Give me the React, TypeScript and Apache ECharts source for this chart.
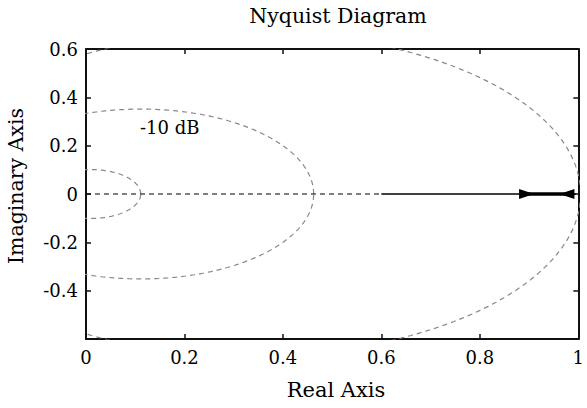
import React, { useEffect, useRef } from "react";
import * as echarts from "echarts";

// M-circle levels of the Nyquist grid (dB)
const mCircleDb = [-20, -10, -6];
// Grid label
const gridLabelText = "-10 dB";
const gridLabelPos = [0.17, 0.275];
// Nyquist response (real, imag)
const nyquistRe = [0.6, 0.995];
const nyquistIm = [0, 0];
// Thick overlapped segment and arrow positions
const thickRe = [0.895, 0.977];
const arrowRe = [0.895, 0.977];
const arrowRotate = [-90, 90];
// Real axis reference (dashed) from 0 to 0.6
const realAxisRe = [0, 0.6];
// Axis ticks
const xTicks = [0, 0.2, 0.4, 0.6, 0.8, 1];
const yTicks = [-0.6, -0.4, -0.2, 0, 0.2, 0.4, 0.6];

const FONT = "DejaVu Serif";

function mCircle(db: number): number[][] {
  const M = Math.pow(10, db / 20);
  const c = (M * M) / (1 - M * M);
  const r = Math.abs(M / (1 - M * M));
  const pts: number[][] = [];
  const n = 360;
  for (let i = 0; i <= n; i++) {
    const t = (i / n) * 2 * Math.PI;
    pts.push([c + r * Math.cos(t), r * Math.sin(t)]);
  }
  return pts;
}

function makeAxis(position: string, ticks: number[], labels: any) {
  return {
    type: "value",
    position,
    min: ticks[0],
    max: ticks[ticks.length - 1],
    interval: 0.2,
    axisLine: { show: true, onZero: false, lineStyle: { color: "#111111", width: 2 } },
    axisTick: { show: true, inside: true, length: 5, lineStyle: { color: "#111111", width: 1.5 } },
    splitLine: { show: false },
    axisLabel: labels,
  };
}

export default function App() {
  const ref = useRef<HTMLDivElement>(null);
  useEffect(() => {
    if (!ref.current) return;
    const chart = echarts.init(ref.current, undefined, { renderer: "svg" });
    const circleSeries = mCircleDb.map((db) => ({
      type: "line",
      data: mCircle(db),
      symbol: "none",
      lineStyle: { color: "#888888", width: 1.2, type: [5, 4] },
    }));
    chart.setOption({
      animation: false,
      title: {
        text: "Nyquist Diagram",
        left: 338,
        top: 5,
        textAlign: "center",
        padding: 0,
        textStyle: { fontFamily: FONT, fontSize: 20.5, fontWeight: "normal", color: "#000000" },
      },
      grid: { left: 86, right: 6, top: 49, bottom: 69 },
      xAxis: [
        makeAxis("bottom", xTicks, {
          color: "#000000",
          fontFamily: FONT,
          fontSize: 18,
          margin: 9,
          formatter: (v: number) => String(Math.round(v * 10) / 10),
        }),
        makeAxis("top", xTicks, { show: false }),
      ],
      yAxis: [
        makeAxis("left", yTicks, {
          color: "#000000",
          fontFamily: FONT,
          fontSize: 18,
          margin: 8,
          formatter: (v: number) => {
            const r = Math.round(v * 10) / 10;
            if (r <= -0.6) return "";
            return String(r);
          },
        }),
        makeAxis("right", yTicks, { show: false }),
      ],
      graphic: [
        {
          type: "text",
          x: 16,
          y: 186,
          rotation: Math.PI / 2,
          style: {
            text: "Imaginary Axis",
            fill: "#000000",
            fontFamily: FONT,
            fontSize: 20.5,
            textAlign: "center",
            textVerticalAlign: "middle",
          },
        },
        {
          type: "text",
          x: 336,
          y: 390,
          style: {
            text: "Real Axis",
            fill: "#000000",
            fontFamily: FONT,
            fontSize: 21,
            textAlign: "center",
            textVerticalAlign: "middle",
          },
        },
      ],
      series: [
        ...circleSeries,
        {
          type: "line",
          data: realAxisRe.map((x) => [x, 0]),
          symbol: "none",
          lineStyle: { color: "#000000", width: 1.2, type: [5, 4] },
        },
        {
          type: "line",
          data: nyquistRe.map((x, i) => [x, nyquistIm[i]]),
          symbol: "none",
          lineStyle: { color: "#000000", width: 1.6 },
        },
        {
          type: "line",
          data: thickRe.map((x) => [x, 0]),
          symbol: "none",
          lineStyle: { color: "#000000", width: 3.5 },
        },
        {
          type: "scatter",
          data: arrowRe.map((x, i) => ({ value: [x, 0], symbolRotate: arrowRotate[i] })),
          symbol: "triangle",
          symbolSize: [10, 15],
          itemStyle: { color: "#000000", opacity: 1 },
        },
        {
          type: "scatter",
          data: [gridLabelPos],
          symbolSize: 1,
          itemStyle: { color: "rgba(0,0,0,0)", opacity: 1 },
          label: {
            show: true,
            position: "inside",
            formatter: gridLabelText,
            color: "#000000",
            fontFamily: FONT,
            fontSize: 18,
          },
        },
      ],
    });
    return () => chart.dispose();
  }, []);
  return <div ref={ref} style={{ width: 587, height: 408, position: "absolute", left: 0, top: 0 }} />;
}
